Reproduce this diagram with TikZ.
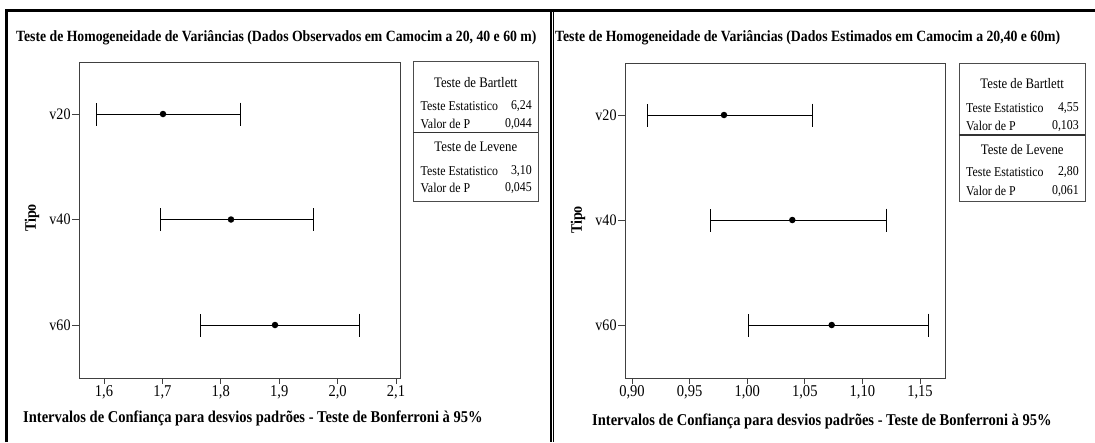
\documentclass[tikz,border=0pt]{standalone}
\usepackage{fontspec}
\setmainfont{Liberation Serif}[FakeStretch=0.88]
\usetikzlibrary{arrows.meta,positioning}

\begin{document}
\begin{tikzpicture}[x=1pt,y=-1pt]
	\tikzstyle{frame}=[draw=black, line width=2.2pt]
	\tikzstyle{divline}=[draw=black, line width=1.4pt]
	\tikzstyle{plotbox}=[draw=black!75, line width=1pt]
	\tikzstyle{legbox}=[draw=black!70, line width=1pt]
	\tikzstyle{sepline}=[draw=black!80, line width=1.5pt]
	\tikzstyle{tick}=[draw=black!75, line width=0.9pt]
	\tikzstyle{ci}=[draw=black, line width=0.95pt, {Bar[width=23pt]}-{Bar[width=23pt]}]
	\tikzstyle{dot}=[circle, fill=black, inner sep=0pt, minimum size=6.5pt]
	\tikzstyle{title}=[font=\bfseries\fontsize{15.6}{18}\selectfont, inner sep=0pt, anchor=base west]
	\tikzstyle{axtitle}=[font=\bfseries\fontsize{16.5}{18}\selectfont, inner sep=0pt]
	\tikzstyle{tipo}=[font=\bfseries\fontsize{16}{18}\selectfont, inner sep=0pt, rotate=90]
	\tikzstyle{ylab}=[font=\fontsize{16}{18}\selectfont, inner sep=1pt]
	\tikzstyle{xlab}=[font=\fontsize{16.5}{18}\selectfont, inner sep=1.5pt]
	\tikzstyle{leghead}=[font=\fontsize{14.5}{16}\selectfont, inner sep=0pt]
	\tikzstyle{legrow}=[font=\fontsize{13.5}{15}\selectfont, inner sep=0pt]

	\useasboundingbox (0,0) rectangle (1095,442);

	% outer frame and panel divider
	\draw[frame] (6.5,442) -- (6.5,10.5) -- (1095,10.5);
	\draw[divline] (551,10.5) -- (551,442);
	\draw[divline] (553.4,10.5) -- (553.4,442);

	% left panel: observed data
	\node[title] (titL) at (16,41) {Teste de Homogeneidade de Variâncias (Dados Observados em Camocim a 20, 40 e 60 m)};
	\draw[plotbox] (79,62) rectangle (400,378);

	\draw[tick] (79,114) -- (72,114) node[ylab, left] (v20L) {v20};
	\draw[tick] (79,219.5) -- (72,219.5) node[ylab, left] (v40L) {v40};
	\draw[tick] (79,325) -- (72,325) node[ylab, left] (v60L) {v60};
	\node[tipo] (tipoL) at (32,218) {Tipo};

	\draw[tick] (104,378) -- (104,384) node[xlab, below] (x16) {1,6};
	\draw[tick] (162.4,378) -- (162.4,384) node[xlab, below] (x17) {1,7};
	\draw[tick] (220.8,378) -- (220.8,384) node[xlab, below] (x18) {1,8};
	\draw[tick] (279.2,378) -- (279.2,384) node[xlab, below] (x19) {1,9};
	\draw[tick] (337.6,378) -- (337.6,384) node[xlab, below] (x20) {2,0};
	\draw[tick] (396,378) -- (396,384) node[xlab, below] (x21) {2,1};
	\node[axtitle, anchor=west] (axL) at (23,418) {Intervalos de Confiança para desvios padrões - Teste de Bonferroni à 95\%};

	\coordinate (a20L) at (96.3,114);
	\coordinate (b20L) at (241,114);
	\coordinate (a40L) at (160,219.5);
	\coordinate (b40L) at (314,219.5);
	\coordinate (a60L) at (200.3,325);
	\coordinate (b60L) at (360.3,325);
	\draw[ci] (a20L) -- (b20L);
	\draw[ci] (a40L) -- (b40L);
	\draw[ci] (a60L) -- (b60L);
	\node[dot] (m20L) at (163,114) {};
	\node[dot] (m40L) at (231,219.5) {};
	\node[dot] (m60L) at (275,325) {};

	\draw[legbox] (413.3,61.7) rectangle (538.3,201);
	\draw[sepline] (413.3,132.7) -- (538.3,132.7);
	\node[leghead] (bartL) at (475.8,82.3) {Teste de Bartlett};
	\node[legrow, anchor=west] (bteL) at (420.5,105.7) {Teste Estatistico};
	\node[legrow, anchor=east] (btvL) at (532,105.7) {6,24};
	\node[legrow, anchor=west] (bpeL) at (420.5,124) {Valor de P};
	\node[legrow, anchor=east] (bpvL) at (532,124) {0,044};
	\node[leghead] (levL) at (475.8,146.7) {Teste de Levene};
	\node[legrow, anchor=west] (lteL) at (420.5,170.7) {Teste Estatistico};
	\node[legrow, anchor=east] (ltvL) at (532,170.7) {3,10};
	\node[legrow, anchor=west] (lpeL) at (420.5,188.3) {Valor de P};
	\node[legrow, anchor=east] (lpvL) at (532,188.3) {0,045};

	% right panel: estimated data
	\node[title] (titR) at (555,41) {Teste de Homogeneidade de Variâncias (Dados Estimados em Camocim a 20,40 e 60m)};
	\draw[plotbox] (625,63.3) rectangle (945.7,378);

	\draw[tick] (625,115) -- (618,115) node[ylab, left] (v20R) {v20};
	\draw[tick] (625,220) -- (618,220) node[ylab, left] (v40R) {v40};
	\draw[tick] (625,325) -- (618,325) node[ylab, left] (v60R) {v60};
	\node[tipo] (tipoR) at (578,220) {Tipo};

	\draw[tick] (632,378) -- (632,384) node[xlab, below] (x090) {0,90};
	\draw[tick] (689.6,378) -- (689.6,384) node[xlab, below] (x095) {0,95};
	\draw[tick] (747.2,378) -- (747.2,384) node[xlab, below] (x100) {1,00};
	\draw[tick] (804.8,378) -- (804.8,384) node[xlab, below] (x105) {1,05};
	\draw[tick] (862.4,378) -- (862.4,384) node[xlab, below] (x110) {1,10};
	\draw[tick] (920,378) -- (920,384) node[xlab, below] (x115) {1,15};
	\node[axtitle, anchor=west] (axR) at (592,421) {Intervalos de Confiança para desvios padrões - Teste de Bonferroni à 95\%};

	\coordinate (a20R) at (647,115);
	\coordinate (b20R) at (812.7,115);
	\coordinate (a40R) at (710.3,220);
	\coordinate (b40R) at (886.7,220);
	\coordinate (a60R) at (748.3,325);
	\coordinate (b60R) at (929,325);
	\draw[ci] (a20R) -- (b20R);
	\draw[ci] (a40R) -- (b40R);
	\draw[ci] (a60R) -- (b60R);
	\node[dot] (m20R) at (724,115) {};
	\node[dot] (m40R) at (792.3,220) {};
	\node[dot] (m60R) at (831.7,325) {};

	\draw[legbox] (959.3,63) rectangle (1085,201.7);
	\draw[sepline] (959.3,135) -- (1085,135);
	\node[leghead] (bartR) at (1022.2,83.3) {Teste de Bartlett};
	\node[legrow, anchor=west] (bteR) at (966,108.3) {Teste Estatistico};
	\node[legrow, anchor=east] (btvR) at (1079,108.3) {4,55};
	\node[legrow, anchor=west] (bpeR) at (966,125.7) {Valor de P};
	\node[legrow, anchor=east] (bpvR) at (1079,125.7) {0,103};
	\node[leghead] (levR) at (1022.2,149.3) {Teste de Levene};
	\node[legrow, anchor=west] (lteR) at (966,172.3) {Teste Estatistico};
	\node[legrow, anchor=east] (ltvR) at (1079,172.3) {2,80};
	\node[legrow, anchor=west] (lpeR) at (966,191) {Valor de P};
	\node[legrow, anchor=east] (lpvR) at (1079,191) {0,061};
\end{tikzpicture}
\end{document}
